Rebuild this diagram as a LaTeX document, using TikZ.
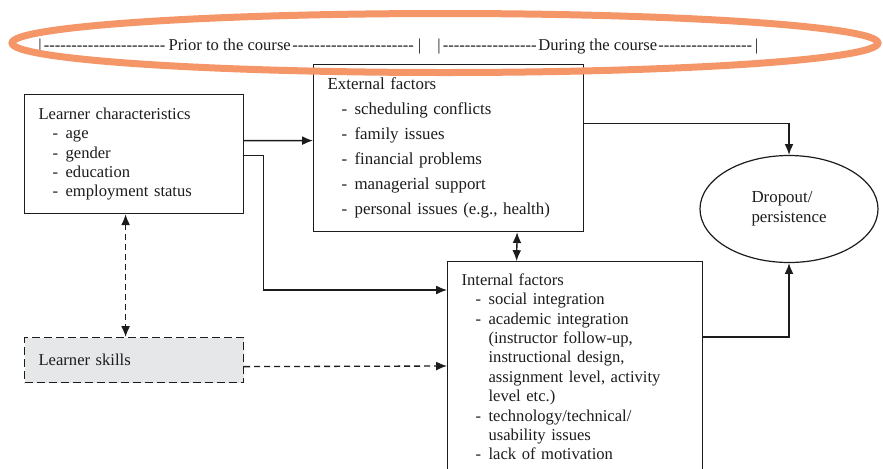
\documentclass[tikz,border=0pt]{standalone}
\usepackage{fontspec}
\setmainfont{Liberation Serif}
\usetikzlibrary{shapes.geometric,arrows.meta}
\newlength\px \setlength\px{0.25mm}
\newcommand\dashline[2]{\makebox[#1]{|\leaders\hbox{-}\hfill#2\leaders\hbox{-}\hfill|}}
\newcommand\itm{\hspace*{14\px}\makebox[13\px][l]{-}}
\newcommand\cnt{\hspace*{27\px}}
\definecolor{ringorange}{RGB}{244,150,104}
\definecolor{ink}{RGB}{28,28,28}
\definecolor{skillgrey}{RGB}{230,231,232}
\begin{document}
\begin{tikzpicture}[x=0.25mm,y=-0.25mm,
				every node/.style={font=\fontsize{11.8}{13.8}\selectfont,text=ink},
				box/.style={draw=ink,line width=1.2\px,rectangle,anchor=north west,align=left,inner xsep=14\px},
				conn/.style={draw=ink,line width=0.33mm,-{Latex[length=2.7mm,width=2.2mm]}},
				both/.style={conn,{Latex[length=2.7mm,width=2.2mm]}-{Latex[length=2.7mm,width=2.2mm]}},
				ring/.style={draw=ringorange,line width=7\px}]
\useasboundingbox (0,0) rectangle (883,468);
% time line
\node[anchor=west,inner sep=0] (prior) at (38,47) {\dashline{383\px}{Prior to the course}};
\node[anchor=west,inner sep=0] (during) at (437,47) {\dashline{321\px}{During the course}};
% boxes
\node[box,text width=191\px,minimum height=119\px] (lc) at (24,94) {Learner characteristics\\
	\itm age\\ \itm gender\\ \itm education\\ \itm employment status};
\node[box,text width=242\px,minimum height=167\px,font=\fontsize{12}{17.8}\selectfont] (ef) at (313,64) {External factors\\
	\itm scheduling conflicts\\ \itm family issues\\ \itm financial problems\\
	\itm managerial support\\ \itm personal issues (e.g., health)};
\node[box,text width=227\px,inner ysep=12\px] (if) at (447,261) {Internal factors\\
	\itm social integration\\
	\itm academic integration\\ \cnt (instructor follow-up,\\ \cnt instructional design,\\
	\cnt assignment level, activity\\ \cnt level etc.)\\
	\itm technology/technical/\\ \cnt usability issues\\
	\itm lack of motivation};
\node[box,dashed,dash pattern=on 8\px off 4\px,fill=skillgrey,text width=191\px,minimum height=45\px] (ls) at (24,337) {Learner skills};
\node[ellipse,draw=ink,line width=1.2\px,minimum width=178\px,minimum height=107\px,align=left,font=\fontsize{12}{14.4}\selectfont] (dp) at (789,209) {Dropout/\\persistence};
% connectors
\draw[conn] ([yshift=3.375mm]lc.east) -- ([yshift=1.875mm]ef.west);
\draw[conn] ([yshift=-0.375mm]lc.east) -- ++(19,0) |- ([yshift=-7.25mm]if.north west);
\draw[conn] ([yshift=6.125mm]ef.east) -| (dp.north);
\draw[conn] ([yshift=-19mm]if.north east) -| (dp.south);
\draw[both] ([xshift=17.125mm]ef.south) -- ([xshift=-14.625mm]if.north);
\draw[both,dashed,dash pattern=on 1.5mm off 1mm] ([xshift=-2.125mm]lc.south) -- ([xshift=-2.125mm]ls.north);
\draw[conn,dashed,dash pattern=on 1.5mm off 1mm] ([yshift=-1.625mm]ls.east) -- ([yshift=-26.25mm]if.north west);
% highlight
\draw[ring] (445,43) ellipse [x radius=433\px, y radius=29.5\px];
\end{tikzpicture}
\end{document}
